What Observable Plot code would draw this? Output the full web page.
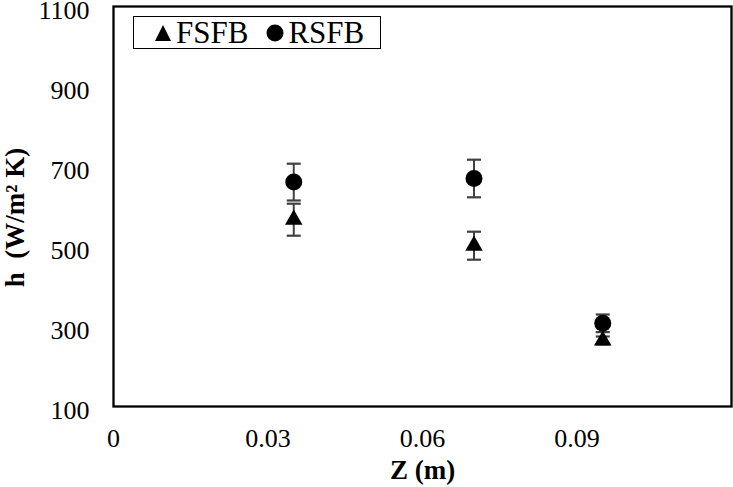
<!DOCTYPE html>
<html>
<head>
<meta charset="utf-8">
<script src="https://cdn.jsdelivr.net/npm/d3@7"></script>
<script src="https://cdn.jsdelivr.net/npm/@observablehq/plot@0.6"></script>
<style>
  html, body { margin: 0; padding: 0; background: #fff; }
  #wrap { position: relative; width: 733px; height: 487px; }
  #legend {
    position: absolute; left: 133px; top: 16px; width: 246px; height: 31px;
    border: 1.6px solid #000; background: #fff;
    font-family: "Liberation Serif", serif; font-size: 31px; color: #000;
    display: flex; align-items: center; box-sizing: content-box;
  }
  #legend .item { display: flex; align-items: center; }
  #legend svg { display: block; }
</style>
</head>
<body>
<div id="wrap"></div>
<script>
// ---- data ----
const z = [0.035, 0.07, 0.095];
const fsfb = [567, 502, 265];
const fsfbErr = [40, 35, 10];
const rsfb = [661, 670, 308];
const rsfbErr = [46, 47, 22];
const seriesNames = ["FSFB", "RSFB"];
const xTicks = [0, 0.03, 0.06, 0.09];
const xTickLabels = ["0", "0.03", "0.06", "0.09"];
const yTicks = [100, 300, 500, 700, 900, 1100];
const yTickLabels = ["100", "300", "500", "700", "900", "1100"];

const rows = [];
z.forEach((zz, i) => {
  rows.push({z: zz, h: fsfb[i], err: fsfbErr[i], s: seriesNames[0]});
  rows.push({z: zz, h: rsfb[i], err: rsfbErr[i], s: seriesNames[1]});
});

const capSymbol = {
  draw(ctx) { ctx.moveTo(-7, 0); ctx.lineTo(7, 0); }
};

const font = "Liberation Serif, Times New Roman, serif";

const chart = Plot.plot({
  width: 733,
  height: 487,
  marginLeft: 113,
  marginRight: 2,
  marginTop: 6,
  marginBottom: 81,
  style: {fontFamily: font, fontSize: "26px", color: "#000", background: "#fff", overflow: "visible"},
  x: {domain: [0, 0.12], label: null},
  y: {domain: [100, 1100], label: null},
  marks: [
    Plot.axisX({ticks: xTicks, tickFormat: (d) => xTickLabels[xTicks.indexOf(d)], tickSize: 0, tickPadding: 22, fontSize: 26, label: null}),
    Plot.axisY({ticks: yTicks, tickFormat: (d) => yTickLabels[yTicks.indexOf(d)], tickSize: 0, tickPadding: 24, fontSize: 26, dy: 4, label: null}),
    // error bars
    Plot.ruleX(rows, {x: "z", y1: d => d.h - d.err, y2: d => d.h + d.err, stroke: "#404040", strokeWidth: 2}),
    Plot.dot(rows, {x: "z", y: d => d.h - d.err, symbol: capSymbol, stroke: "#404040", strokeWidth: 2.2, fill: "none"}),
    Plot.dot(rows, {x: "z", y: d => d.h + d.err, symbol: capSymbol, stroke: "#404040", strokeWidth: 2.2, fill: "none"}),
    // markers
    Plot.dot(rows.filter(d => d.s === "FSFB"), {x: "z", y: "h", symbol: "triangle", r: 6.5, fill: "#000", stroke: "none"}),
    Plot.dot(rows.filter(d => d.s === "RSFB"), {x: "z", y: "h", symbol: "circle", r: 8.5, fill: "#000", stroke: "none"}),
    Plot.frame({stroke: "#000", strokeWidth: 2.3}),
    // axis titles
    Plot.text(["Z (m)"], {frameAnchor: "bottom", text: d => d, dy: 72, fontSize: 27, fontWeight: "bold", fill: "#000"}),
    Plot.text(["h\u00a0\u00a0(W/m\u00b2 K)"], {frameAnchor: "left", text: d => d, rotate: -90, dx: -98, dy: 11, fontSize: 27, fontWeight: "bold", fill: "#000", textAnchor: "middle"})
  ]
});

const wrap = document.getElementById("wrap");
wrap.appendChild(chart);

// legend
const legend = document.createElement("div");
legend.id = "legend";
const tri = '<svg width="18" height="18" viewBox="-9 -9 18 18"><path d="M0,-8L8,8L-8,8Z" fill="#000"/></svg>';
const circ = '<svg width="18" height="18" viewBox="-9 -9 18 18"><circle r="8.5" fill="#000"/></svg>';
legend.innerHTML =
  '<div class="item" style="margin-left:20px">' + tri + '<span style="margin-left:4px">' + seriesNames[0] + '</span></div>' +
  '<div class="item" style="margin-left:18px">' + circ + '<span style="margin-left:4px">' + seriesNames[1] + '</span></div>';
wrap.appendChild(legend);
</script>
</body>
</html>
